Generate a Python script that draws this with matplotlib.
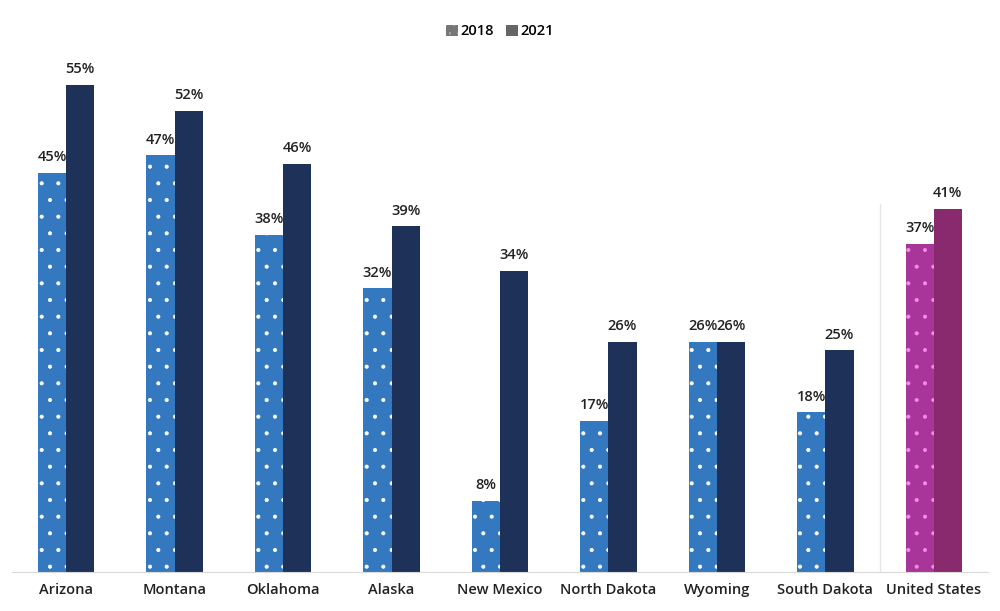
import matplotlib
matplotlib.use("Agg")
import matplotlib.pyplot as plt
import numpy as np
from matplotlib.patches import Patch

states = ["Arizona", "Montana", "Oklahoma", "Alaska", "New Mexico",
          "North Dakota", "Wyoming", "South Dakota", "United States"]
vals_2018 = [45, 47, 38, 32, 8, 17, 26, 18, 37]
vals_2021 = [55, 52, 46, 39, 34, 26, 26, 25, 41]

plt.rcParams["font.family"] = ["Open Sans", "DejaVu Sans"]
plt.rcParams["hatch.linewidth"] = 0.5

fig = plt.figure(figsize=(10, 6.11), dpi=100)
ax = fig.add_axes([0.012, 0.064, 0.976, 0.87])

x = np.arange(len(states))
w = 0.26
c18 = ["#3479c0"] * 8 + ["#a8359a"]
c21 = ["#1e3158"] * 8 + ["#8a2a6e"]
dot = ["white"] * 8 + ["#f08ee0"]

for i in x:
    ax.bar(i - w / 2, vals_2018[i], w, color=c18[i], edgecolor=dot[i],
           hatch=".", linewidth=0)
    ax.bar(i + w / 2, vals_2021[i], w, color=c21[i], linewidth=0)
    ax.text(i - w / 2, vals_2018[i] + 1.0, f"{vals_2018[i]}%", ha="center",
            va="bottom", fontsize=10.5, fontweight="semibold", color="#222222")
    ax.text(i + w / 2, vals_2021[i] + 1.0, f"{vals_2021[i]}%", ha="center",
            va="bottom", fontsize=10.5, fontweight="semibold", color="#222222")

ax.axvline(7.5, ymin=0, ymax=41.5 / 60, color="#e6e6e6", linewidth=1)
ax.set_xlim(-0.5, 8.5)
ax.set_ylim(0, 60)
ax.set_xticks(x)
ax.set_xticklabels(states, fontsize=10.5, fontweight="semibold", color="#222222")
ax.tick_params(axis="x", length=0, pad=8)
ax.set_yticks([])
for s in ["top", "right", "left"]:
    ax.spines[s].set_visible(False)
ax.spines["bottom"].set_color("#d9d9d9")

handles = [Patch(facecolor="#777777", edgecolor="#aaaaaa", hatch="..", linewidth=0, label="2018"),
           Patch(facecolor="#666666", linewidth=0, label="2021")]
fig.legend(handles=handles, loc="center", bbox_to_anchor=(0.5, 0.949), ncol=2,
           frameon=False, fontsize=10.5, handlelength=0.8, handleheight=0.8,
           handletextpad=0.2, columnspacing=0.8, prop={"weight": "semibold", "size": 10.5})

fig.savefig("out.png", dpi=100)
